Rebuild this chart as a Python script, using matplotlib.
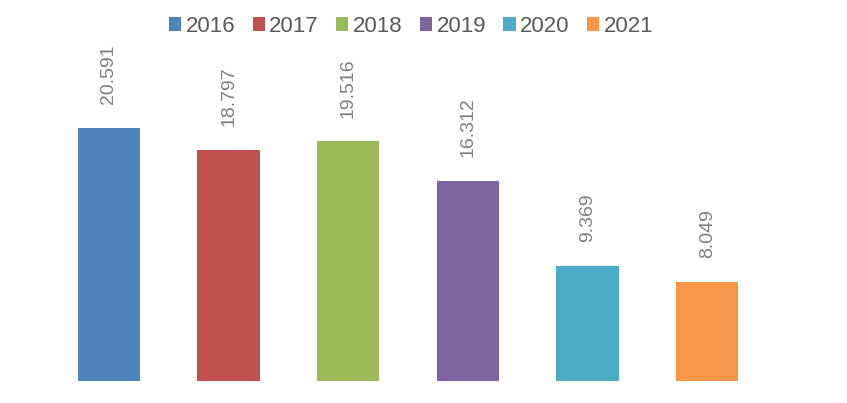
import matplotlib.pyplot as plt
from matplotlib.patches import Patch

years = ['2016', '2017', '2018', '2019', '2020', '2021']
values = [20.591, 18.797, 19.516, 16.312, 9.369, 8.049]
colors = ['#4f81bd', '#c0504d', '#9bbb59', '#8064a2', '#4bacc6', '#f79646']

plt.rcParams['font.family'] = ['Liberation Sans', 'DejaVu Sans']

fig = plt.figure(figsize=(8.47, 4.03), dpi=100)
# axes placed in pixels: x from 49 to 767, y bottom at 381 (from top)
ax = fig.add_axes([49 / 847, (403 - 381) / 403, (767 - 49) / 847, 341 / 403])

x = list(range(len(years)))
ax.bar(x, values, width=0.52, color=colors)
ax.set_xlim(-0.5, 5.5)
ax.set_ylim(0, 341 / 12.29)

for xi, v in zip(x, values):
    ax.annotate(f'{v:.3f}', (xi, v), xytext=(0, 17), textcoords='offset points',
                rotation=90, ha='center', va='bottom', fontsize=14, color='#7f7f7f')

ax.axis('off')

handles = [Patch(facecolor=c, label=y) for c, y in zip(colors, years)]
fig.legend(handles=handles, loc='upper center', bbox_to_anchor=(411 / 847, 1.01), ncol=6,
           frameon=False, fontsize=16, handlelength=0.55, handleheight=0.55,
           handletextpad=0.2, columnspacing=0.78, labelcolor='#595959')

fig.savefig('out.png', dpi=100)
